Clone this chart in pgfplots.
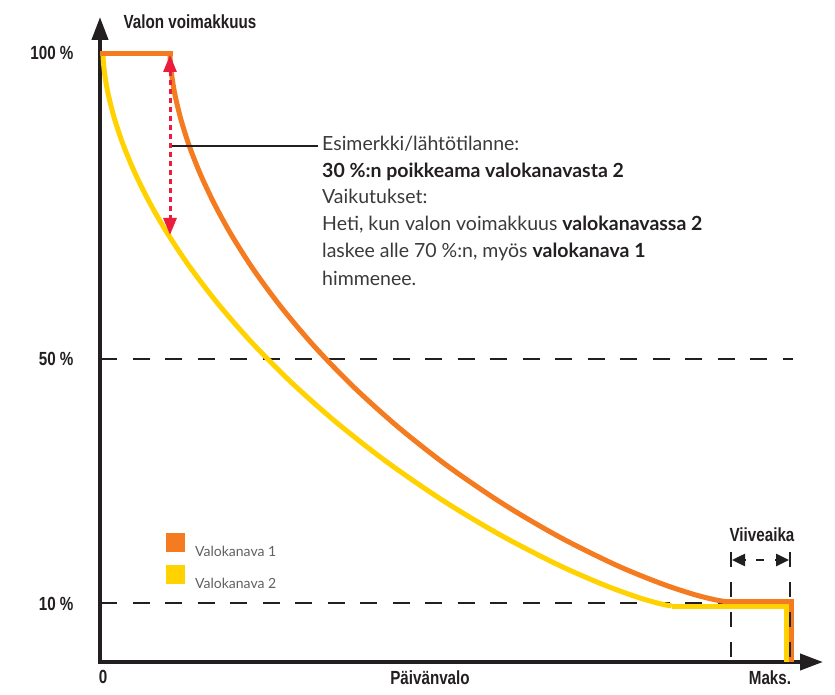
\documentclass[border=0pt]{standalone}
\usepackage{fontspec}
\setmainfont{Lato}
\newfontfamily\condfont[FakeStretch=0.8]{Liberation Sans}
\usepackage{pgfplots}
\pgfplotsset{compat=1.18}
\usetikzlibrary{arrows.meta}
\definecolor{orng}{HTML}{F47B20}
\definecolor{yell}{HTML}{FFD200}
\definecolor{redarr}{HTML}{EC1C3C}
\definecolor{ink}{HTML}{231F20}
\definecolor{txt}{HTML}{3A3A3A}
\definecolor{leg}{HTML}{606060}
\newcommand{\lab}{\condfont\bfseries\fontsize{19}{21}\selectfont\color{ink}}
\begin{document}
\begin{tikzpicture}
\useasboundingbox (-100pt,-32pt) rectangle (735pt,662pt);
\begin{axis}[
  at={(0pt,0pt)}, anchor=south west,
  scale only axis, width=723pt, height=645pt,
  xmin=0, xmax=723, ymin=0.5, ymax=105.9,
  clip=false,
  axis lines=left,
  axis line style={line width=4pt, ink, line cap=rect, -{Triangle[length=23pt,width=16pt]}},
  xtick={3,330,670}, xticklabels={0,Päivänvalo,Maks.},
  ytick={10,50,100}, yticklabels={10 \%,50 \%,100 \%},
  major tick length=0pt,
  tick label style={font=\lab},
  yticklabel style={xshift=-23pt},
  xticklabel style={yshift=-5pt},
  legend style={at={(axis cs:66,21.57)}, anchor=north west, draw=none, fill=none,
    inner sep=0pt, font=\fontsize{14}{16}\selectfont, text=leg,
    row sep=7pt, nodes={inner sep=0pt},
    /tikz/every even column/.append style={column sep=0pt}},
  legend image code/.code={\fill[#1, draw=none] (0pt,0pt) rectangle (19pt,19pt); \path[draw=none, fill=none] (29pt,0pt);},
  legend cell align=left,
  reverse legend,
]
% reference lines
\draw[ink, line width=2pt, dash pattern=on 17pt off 15.5pt] (axis cs:0,50) -- (axis cs:693,50);
\draw[ink, line width=2pt, dash pattern=on 17pt off 15.5pt] (axis cs:0,10.1) -- (axis cs:630,10.1);

% Valokanava 2 (yellow)
\addplot[yell, line width=5pt, smooth] coordinates {
 (3,100) (3.28,98.82) (4.14,97.30) (5.84,95.32) (8.69,92.93) (14.37,89.33)
 (22.90,85.15) (34.28,80.64) (48.50,75.91) (65.56,71.04) (88.31,65.40)
 (116.74,59.29) (150.86,52.87) (190.67,46.29) (236.17,39.68) (287.35,33.13)
 (344.22,26.75) (401.09,21.19) (457.96,16.39) (503.46,13.13) (537.58,11.09)
 (560.33,10.01) (571.7,9.65)
};
\addlegendentry{Valokanava 2}
\addplot[yell, line width=5pt, line join=miter, forget plot] coordinates {
 (571.7,9.65) (686.5,9.65) (686.5,0.5)
};

% Valokanava 1 (orange)
\addplot[orng, line width=5pt, line cap=rect, forget plot] coordinates {
 (3,100) (70,100)
};
\addplot[orng, line width=5pt, smooth] coordinates {
 (70,100) (70.28,98.78) (71.11,97.21) (72.79,95.18) (75.57,92.72) (81.14,89.02)
 (89.50,84.73) (100.64,80.11) (114.56,75.29) (131.27,70.32) (153.55,64.61)
 (181.40,58.44) (214.82,51.99) (253.81,45.42) (298.37,38.86) (348.50,32.42)
 (404.20,26.22) (459.90,20.89) (515.60,16.37) (560.16,13.38) (593.58,11.56)
 (615.86,10.64) (627,10.35)
};
\addlegendentry{Valokanava 1}
\addplot[orng, line width=5pt, line join=miter, forget plot] coordinates {
 (627,10.35) (691.5,10.35) (691.5,0.5)
};
\end{axis}

% axis title
\node[font=\lab] at (90pt,640pt) {Valon voimakkuus};

% red deviation arrow
\draw[redarr, line width=3pt, dash pattern=on 5pt off 4pt,
  {Triangle[length=17pt,width=13pt]}-{Triangle[length=17pt,width=13pt]}]
  (70pt,607pt) -- (70pt,427pt);

% connector
\draw[ink, line width=2pt] (72pt,516pt) -- (218pt,516pt);

% annotation
\begin{scope}[every node/.style={anchor=base west, inner sep=0pt, font=\fontsize{19.5}{22}\selectfont, text=txt}]
\node at (222pt,511pt) {Esimerkki/lähtötilanne:};
\node at (222pt,484pt) {\textbf{\color{ink}30 \%:n poikkeama valokanavasta 2}};
\node at (222pt,458pt) {Vaikutukset:};
\node at (222pt,431pt) {Heti, kun valon voimakkuus \textbf{\color{ink}valokanavassa 2}};
\node at (222pt,404pt) {laskee alle 70 \%:n, myös \textbf{\color{ink}valokanava 1}};
\node at (222pt,376pt) {himmenee.};
\end{scope}

% delay markers
\draw[ink, line width=2pt, dash pattern=on 15pt off 15pt] (631pt,110pt) -- (631pt,0pt);
\draw[ink, line width=2pt, dash pattern=on 15pt off 15pt] (690pt,110pt) -- (690pt,0pt);
\draw[ink, line width=2.5pt, -{Triangle[length=13pt,width=12pt]}] (646pt,102pt) -- (632pt,102pt);
\draw[ink, line width=2.5pt, -{Triangle[length=13pt,width=12pt]}] (675pt,102pt) -- (689pt,102pt);
\draw[ink, line width=2.5pt] (656pt,102pt) -- (664pt,102pt);
\node[font=\lab] at (662pt,127pt) {Viiveaika};
\end{tikzpicture}
\end{document}
